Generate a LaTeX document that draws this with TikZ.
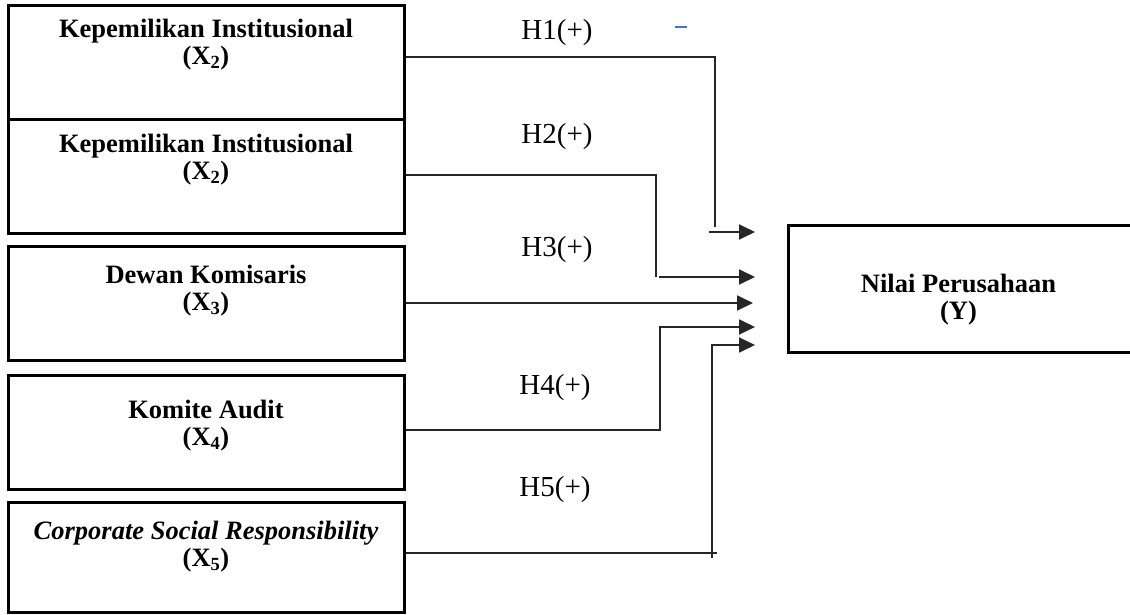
\documentclass[tikz,border=0pt]{standalone}
\usepackage{fontspec}
\setmainfont{Liberation Serif}
\usetikzlibrary{arrows.meta}
\definecolor{dashblue}{HTML}{4472C4}
\tikzset{
	box/.style 2 args={draw,line width=3pt,minimum width=#1,minimum height=#2,inner sep=0pt},
	boxtext/.style={align=center,inner sep=0pt,font=\fontsize{26.5}{27}\selectfont\bfseries},
	hyp/.style={inner sep=0pt,font=\fontsize{29}{30}\selectfont},
	link/.style={line width=1.8pt,draw=black!85},
	arr/.style={link,-{Triangle[length=16pt,width=15pt]}}
}
\begin{document}
\begin{tikzpicture}[x=1pt,y=-1pt]
						\useasboundingbox (0,0) rectangle (1130,615);
						\clip (0,0) rectangle (1130,615);

						\node [box={396pt}{114pt}] (kep1) at (206,63) {};
						\node [box={396pt}{113pt}] (kep2) at (206,176.5) {};
						\node [box={396pt}{114pt}] (dewan) at (206,303) {};
						\node [box={396pt}{114pt}] (komite) at (206,432) {};
						\node [box={396pt}{110pt}] (csr) at (206,557) {};
						\node [box={352pt}{127pt}] (nilai) at (964,288.5) {};

						\node [boxtext] (kep1txt) at (206,44.5) {Kepemilikan Institusional\\(X\textsubscript{2})};
						\node [boxtext] (kep2txt) at (206,160) {Kepemilikan Institusional\\(X\textsubscript{2})};
						\node [boxtext] (dewantxt) at (206,291) {Dewan Komisaris\\(X\textsubscript{3})};
						\node [boxtext] (komitetxt) at (206,425.5) {Komite Audit\\(X\textsubscript{4})};
						\node [boxtext] (csrtxt) at (206,546.5) {\itshape Corporate Social Responsibility\\(X\textsubscript{5})};
						\node [boxtext] (nilaitxt) at (958.5,299.5) {Nilai Perusahaan\\(Y)};

						\node [hyp] (h1) at (557,33) {H1(+)};
						\node [hyp] (h2) at (557,137) {H2(+)};
						\node [hyp] (h3) at (557,250) {H3(+)};
						\node [hyp] (h4) at (555,388) {H4(+)};
						\node [hyp] (h5) at (555,490) {H5(+)};

						\coordinate (b1) at (715,227);
						\coordinate (s1) at (709,232);
						\coordinate (e1) at (755,232);
						\coordinate (b2) at (656,277);
						\coordinate (s2) at (659,277);
						\coordinate (e2) at (755,277);
						\coordinate (e3) at (753,303);
						\coordinate (b4) at (660,327);
						\coordinate (e4) at (755,327);
						\coordinate (b5) at (712,558);
						\coordinate (e5) at (755,345);

						\draw [link] ([yshift=6pt]kep1.east) -| (b1);
						\draw [arr] (s1) -- (e1);
						\draw [link] ([yshift=1.5pt]kep2.east) -| (b2);
						\draw [arr] (s2) -- (e2);
						\draw [arr] (dewan.east) -- (e3);
						\draw [arr] ([yshift=2pt]komite.east) -| (b4) -- (e4);
						\draw [link] ([yshift=4pt]csr.east) -- ++(311,0);
						\draw [arr] (b5) |- (e5);

						\draw [dashblue,line width=1.2pt] (675,27) -- (687,27);
					\end{tikzpicture}
\end{document}
